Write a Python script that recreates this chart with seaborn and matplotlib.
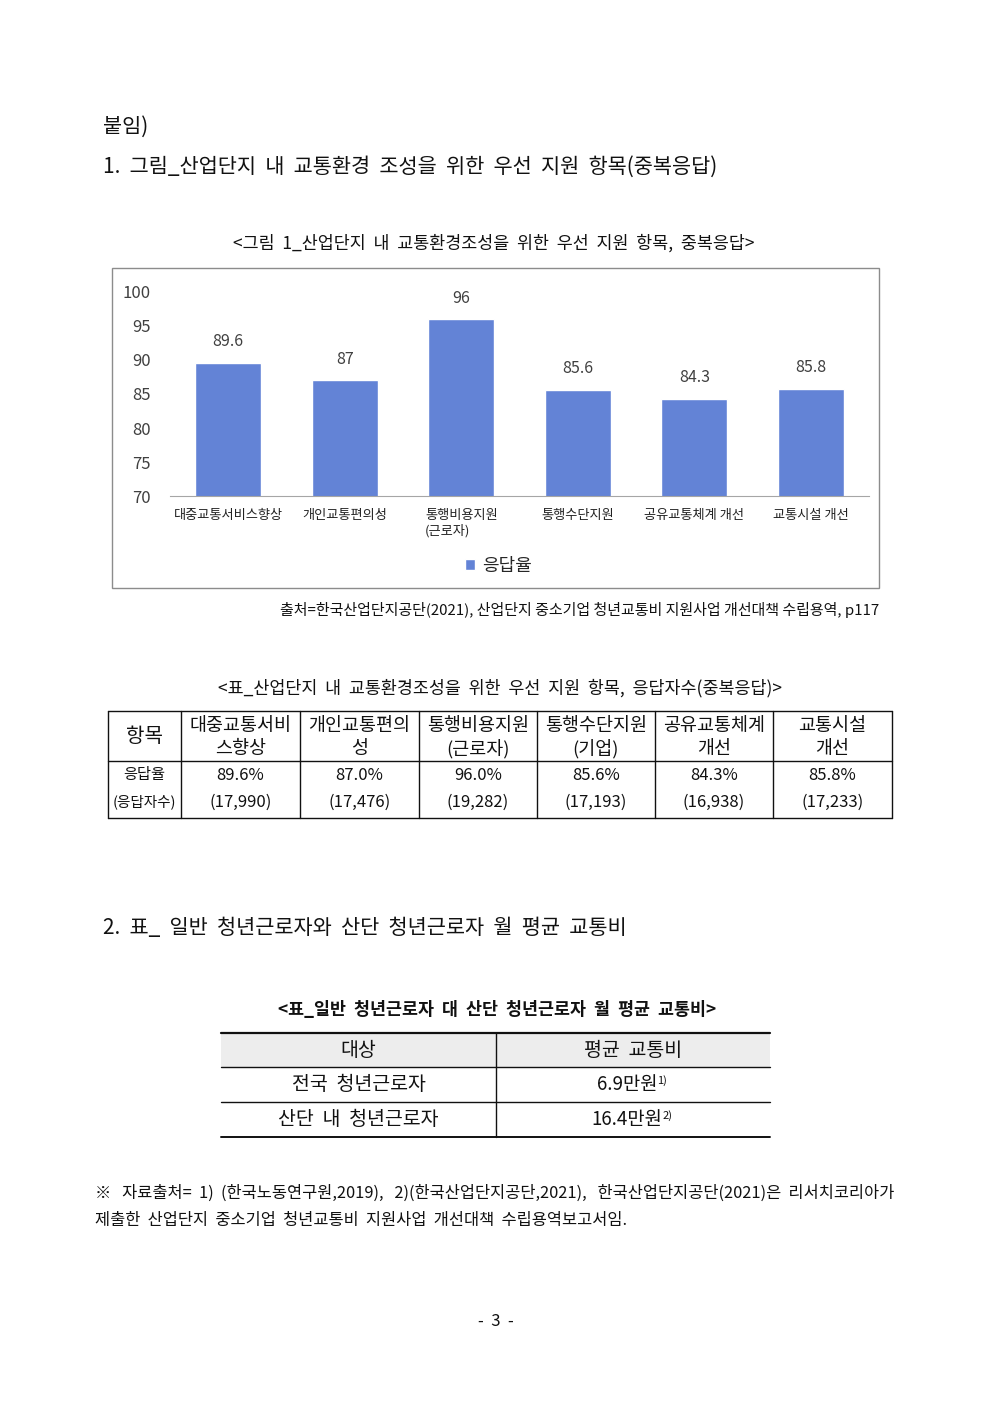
import matplotlib
matplotlib.use("Agg")
import matplotlib.pyplot as plt
import seaborn as sns
import pandas as pd
from matplotlib.patches import Rectangle

# chart data
categories = ["대중교통서비스향상", "개인교통편의성", "통행비용지원\n(근로자)",
              "통행수단지원", "공유교통체계 개선", "교통시설 개선"]
rates = [89.6, 87.0, 96.0, 85.6, 84.3, 85.8]
y_ticks = [70, 75, 80, 85, 90, 95, 100]

# table 1 data
t1_headers = ["대중교통서비\n스향상", "개인교통편의\n성", "통행비용지원\n(근로자)",
              "통행수단지원\n(기업)", "공유교통체계\n개선", "교통시설\n개선"]
t1_counts = [17990, 17476, 19282, 17193, 16938, 17233]

# table 2 data
t2_cols = ["대상", "평균  교통비"]
t2_rows = ["전국  청년근로자", "산단  내  청년근로자"]
t2_costs = ["6.9만원", "16.4만원"]
t2_notes = ["1)", "2)"]

sns.set_style("white")
plt.rcParams['font.family'] = ['Noto Sans CJK KR', 'DejaVu Sans']

W, H = 992, 1403
fig = plt.figure(figsize=(W / 100, H / 100), dpi=100)
fig.patch.set_facecolor("white")

page = fig.add_axes([0, 0, 1, 1])
page.set_xlim(0, W)
page.set_ylim(H, 0)
page.axis("off")

def box(x0, y0, x1, y1):
    return [x0 / W, 1 - y1 / H, (x1 - x0) / W, (y1 - y0) / H]

ink = "#111111"

# headings
page.text(103, 127, "붙임)", fontsize=15, va="center", color=ink)
page.text(103, 167, "1.  그림_산업단지  내  교통환경  조성을  위한  우선  지원  항목(중복응답)",
          fontsize=15, va="center", color=ink)
page.text(494, 243, "<그림  1_산업단지  내  교통환경조성을  위한  우선  지원  항목,  중복응답>",
          fontsize=12.5, va="center", ha="center", color=ink)

# chart frame
page.add_patch(Rectangle((112, 268), 767, 320, fill=False, ec="#8c8c8c", lw=1))

# bar chart
ax = fig.add_axes(box(170, 292, 869, 496))
df = pd.DataFrame({"항목": categories, "응답율": rates})
sns.barplot(data=df, x="항목", y="응답율", color="#6383d6", width=0.57,
            saturation=1, ax=ax, label="응답율")
ax.set_ylim(70, 100)
ax.set_yticks(y_ticks)
ax.set_xlim(-0.5, len(categories) - 0.5)
ax.set_xlabel("")
ax.set_ylabel("")
for s in ["top", "right", "left"]:
    ax.spines[s].set_visible(False)
ax.spines["bottom"].set_color("#a6a6a6")
ax.tick_params(axis="y", length=0, labelsize=12, labelcolor="#404040", pad=14)
ax.tick_params(axis="x", length=0, labelsize=9.5, labelcolor="#222222", pad=9)
for lab in ax.get_xticklabels():
    lab.set_multialignment("left")
ax.bar_label(ax.containers[0], fmt="{:g}", padding=9, fontsize=11.5, color="#404040")
ax.legend(loc="upper center", bbox_to_anchor=(0.47, -0.22), frameon=False,
          fontsize=13, handlelength=0.6, handleheight=0.6, handletextpad=0.4)

# source
page.text(879, 610, "출처=한국산업단지공단(2021), 산업단지 중소기업 청년교통비 지원사업 개선대책 수립용역, p117",
          fontsize=10.8, va="center", ha="right", color=ink)

# table 1
page.text(500, 688, "<표_산업단지  내  교통환경조성을  위한  우선  지원  항목,  응답자수(중복응답)>",
          fontsize=12.5, va="center", ha="center", color=ink)
xs = [108, 181, 300, 419, 537, 655, 773, 892]
y_top, y_mid, y_bot = 711, 761, 818
for x in xs:
    page.plot([x, x], [y_top, y_bot], color=ink, lw=1)
for y in [y_top, y_mid, y_bot]:
    page.plot([xs[0], xs[-1]], [y, y], color=ink, lw=1)
page.text((xs[0] + xs[1]) / 2, 736, "항목", fontsize=14.5, ha="center", va="center", color=ink)
page.text((xs[0] + xs[1]) / 2, 775, "응답율", fontsize=11, ha="center", va="center", color=ink)
page.text((xs[0] + xs[1]) / 2, 802, "(응답자수)", fontsize=10.5, ha="center", va="center", color=ink)
for i, (hd, r, c) in enumerate(zip(t1_headers, rates, t1_counts)):
    cx = (xs[i + 1] + xs[i + 2]) / 2
    l1, l2 = hd.split("\n")
    page.text(cx, 726, l1, fontsize=13.3, ha="center", va="center", color=ink)
    page.text(cx, 749, l2, fontsize=13.3, ha="center", va="center", color=ink)
    page.text(cx, 775, f"{r:.1f}%", fontsize=12, ha="center", va="center", color=ink)
    page.text(cx, 802, f"({c:,})", fontsize=12, ha="center", va="center", color=ink)

# section 2
page.text(103, 928, "2.  표_  일반  청년근로자와  산단  청년근로자  월  평균  교통비",
          fontsize=15, va="center", color=ink)
page.text(497, 1010, "<표_일반  청년근로자  대  산단  청년근로자  월  평균  교통비>",
          fontsize=12.5, va="center", ha="center", color=ink, fontweight="bold")

tx0, tmid, tx1 = 221, 496, 770
rows_y = [1033, 1067, 1102, 1137]
page.add_patch(Rectangle((tx0, rows_y[0]), tx1 - tx0, rows_y[1] - rows_y[0],
                         fc="#ededed", ec="none"))
page.plot([tx0, tx1], [rows_y[0], rows_y[0]], color=ink, lw=1.6)
page.plot([tx0, tx1], [rows_y[1], rows_y[1]], color=ink, lw=1)
page.plot([tx0, tx1], [rows_y[2], rows_y[2]], color=ink, lw=1)
page.plot([tx0, tx1], [rows_y[3], rows_y[3]], color=ink, lw=1.4)
page.plot([tmid, tmid], [rows_y[0], rows_y[3]], color=ink, lw=1)
c1, c2 = (tx0 + tmid) / 2, (tmid + tx1) / 2
page.text(c1, 1050, t2_cols[0], fontsize=14, ha="center", va="center", color=ink)
page.text(c2, 1050, t2_cols[1], fontsize=14, ha="center", va="center", color=ink)
for j, (name, cost, note) in enumerate(zip(t2_rows, t2_costs, t2_notes)):
    cy = (rows_y[j + 1] + rows_y[j + 2]) / 2
    page.text(c1, cy, name, fontsize=14, ha="center", va="center", color=ink)
    t = page.text(c2 - 6, cy, cost, fontsize=13.5, ha="center", va="center", color=ink)
    page.annotate(note, xy=(1, 0.95), xycoords=t, fontsize=8, ha="left", va="top", color=ink)

# footnote
page.text(95, 1193, "※   자료출처=  1)  (한국노동연구원,2019),   2)(한국산업단지공단,2021),   한국산업단지공단(2021)은  리서치코리아가",
          fontsize=11.8, va="center", color=ink)
page.text(95, 1220, "제출한  산업단지  중소기업  청년교통비  지원사업  개선대책  수립용역보고서임.",
          fontsize=11.8, va="center", color=ink)

page.text(496, 1322, "-  3  -", fontsize=12, ha="center", va="center", color=ink)

fig.savefig("out.png", dpi=100, facecolor="white")
